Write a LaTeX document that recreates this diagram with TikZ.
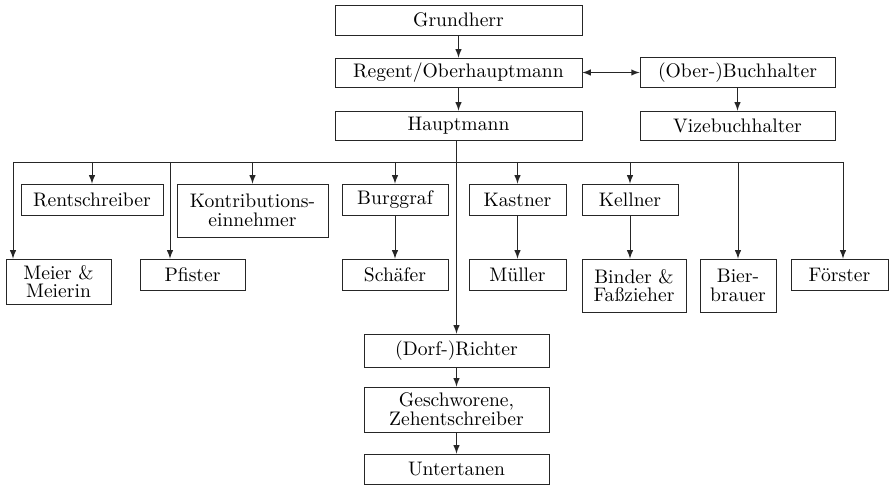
\documentclass[tikz,border=0pt]{standalone}
\tikzset{
  box/.style={draw, inner sep=0pt, align=center,
    font=\fontsize{9.8}{9.4}\selectfont},
  >=latex
}
\begin{document}
\begin{tikzpicture}[x=0.5pt,y=-0.5pt,line width=0.45pt,draw=black!85]
\useasboundingbox (0,0) rectangle (891,485);
% top of the hierarchy
\node[box,minimum width=123.5pt,minimum height=15pt] (grund) at (458.5,20) {Grundherr};
\node[box,minimum width=123.5pt,minimum height=14.5pt] (regent) at (458.5,72.5) {Regent/Oberhauptmann};
\node[box,minimum width=123.5pt,minimum height=14.5pt] (haupt) at (458.5,125.5) {Hauptmann};
\node[box,minimum width=97.5pt,minimum height=15pt] (buch) at (737.5,72.5) {(Ober-)Buchhalter};
\node[box,minimum width=97.5pt,minimum height=14.5pt] (vize) at (737.5,125.5) {Vizebuchhalter};
% first row
\node[box,minimum width=71pt,minimum height=15.5pt] (rent) at (92,199.5) {Rentschreiber};
\node[box,minimum width=75.5pt,minimum height=26.5pt] (kontr) at (252.5,210.5) {Kontributions-\\einnehmer};
\node[box,minimum width=53pt,minimum height=15.5pt] (burg) at (395,199.5) {Burggraf};
\node[box,minimum width=48.5pt,minimum height=15.5pt] (kast) at (517.5,199.5) {Kastner};
\node[box,minimum width=48pt,minimum height=15.5pt] (kell) at (630,199.5) {Kellner};
% second row
\node[box,minimum width=52.5pt,minimum height=22.5pt] (meier) at (58.5,281.5) {Meier \&\\Meierin};
\node[box,minimum width=52.5pt,minimum height=15.5pt] (pfister) at (192.5,274.5) {Pfister};
\node[box,minimum width=53pt,minimum height=15.5pt] (schaefer) at (395,274.5) {Schäfer};
\node[box,minimum width=48.5pt,minimum height=15.5pt] (mueller) at (517.5,274.5) {Müller};
\node[box,minimum width=52pt,minimum height=26.5pt] (binder) at (634,285.5) {Binder \&\\Faßzieher};
\node[box,minimum width=38pt,minimum height=26.5pt] (bier) at (738,285.5) {Bier-\\brauer};
\node[box,minimum width=48.5pt,minimum height=15.5pt] (foerster) at (839.5,274.5) {Förster};
% village
\node[box,minimum width=92.5pt,minimum height=16.5pt] (dorf) at (456.5,350.5) {(Dorf-)Richter};
\node[box,minimum width=92.5pt,minimum height=22.5pt] (gesch) at (456.5,409.5) {Geschworene,\\Zehentschreiber};
\node[box,minimum width=92.5pt,minimum height=15pt] (unter) at (456.5,469) {Untertanen};
% connectors
\draw[->] (grund) -- (regent);
\draw[->] (regent) -- (haupt);
\draw[<->] (regent) -- (buch);
\draw[->] (buch) -- (vize);
\draw[->] (dorf.north |- haupt.south) -- (dorf.north);
\draw[->] (dorf) -- (gesch);
\draw[->] (gesch) -- (unter);
% distribution line
\coordinate (busL) at (13,162);
\coordinate (busR) at (843,162);
\coordinate (pf) at (170,162);
\draw (busL) -- (busR);
\draw[->] (busL) -- (busL |- meier.north);
\draw[->] (pf) -- (pf |- pfister.north);
\draw[->] (busR) -- (busR |- foerster.north);
\foreach \n in {rent,kontr,burg,kast,kell,bier}
  \draw[->] (\n.north |- busL) -- (\n.north);
\draw[->] (burg) -- (schaefer);
\draw[->] (kast) -- (mueller);
\draw[->] (kell.south) -- (kell.south |- binder.north);
\end{tikzpicture}
\end{document}
